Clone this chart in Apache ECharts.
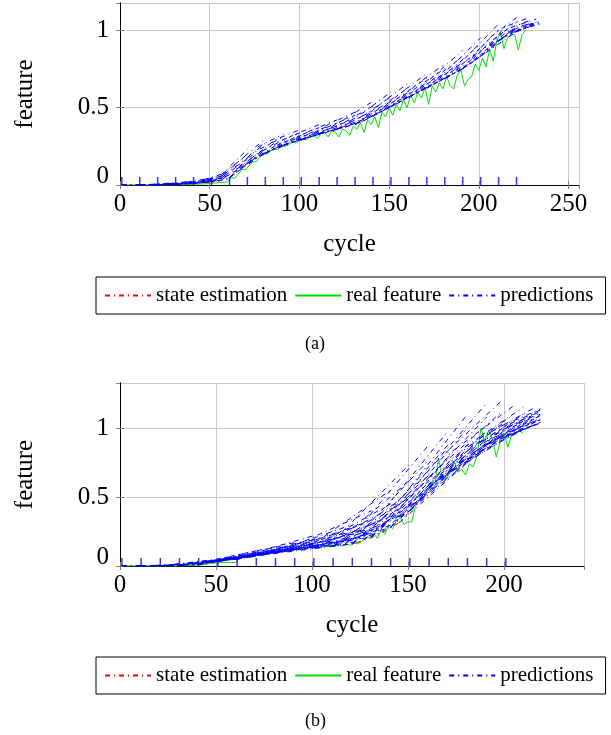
<!DOCTYPE html>
<html><head><meta charset="utf-8">
<script src="https://cdn.jsdelivr.net/npm/echarts@6/dist/echarts.min.js"></script>
<style>html,body{margin:0;padding:0;background:#fff}#c{width:611px;height:735px}</style>
</head><body><div id="c"></div>
<script>
const FONT = '"Liberation Serif", "Times New Roman", serif';
const LEGEND_NAMES = ['state estimation', 'real feature', 'predictions'];
const X_TICKS = [0, 50, 100, 150, 200, 250];
const Y_TICKS = [0, 0.5, 1];

// ---------- chart (a) ----------
const stateStepA = 5;
const stateA = [0,0,0,0,0,0.002,0.004,0.006,0.008,0.012,0.018,0.025,0.04,0.08,0.13,0.17,0.2,0.23,0.25,0.27,0.29,0.31,0.325,0.34,0.355,0.37,0.39,0.41,0.44,0.47,0.5,0.53,0.56,0.59,0.62,0.65,0.68,0.71,0.74,0.78,0.82,0.87,0.92,0.96,0.99,1.02];
const realStepA = 2;
const realA = [0,0,0,0,0,0,0,0,0,0,0,0,0,0,0,0,0,0.001,0.002,0.003,
  0.004,0.005,0.006,0.007,0.008,0.01,0.012,0.014,0.016,0.018,0.02,0.045,0.045,0.07,0.1,0.1,0.125,0.15,0.15,0.18,
  0.2,0.2,0.22,0.23,0.23,0.25,0.25,0.26,0.28,0.27,0.29,0.3,0.29,0.31,0.32,0.3,0.33,0.34,0.31,0.35,
  0.34,0.31,0.36,0.35,0.32,0.38,0.36,0.4,0.34,0.42,0.39,0.44,0.37,0.47,0.44,0.5,0.45,0.52,0.48,0.55,
  0.5,0.58,0.53,0.6,0.56,0.63,0.52,0.64,0.6,0.66,0.62,0.7,0.64,0.62,0.71,0.74,0.64,0.68,0.7,0.78,
  0.74,0.82,0.76,0.88,0.8,0.93,0.98,0.88,0.95,0.97,0.97,0.87,0.97,1.0];
const predStartA = [1,11,21,31,41,51,61,71,81,91,101,111,121,131,141,151,161,171,181,191,201,211,221];
const predStartValA = [0,0,0.001,0.004,0.01,0.018,0.045,0.14,0.205,0.255,0.29,0.33,0.36,0.39,0.445,0.505,0.565,0.625,0.685,0.75,0.83,0.93,0.99];
const predEndCycleA = [31,41,51,61,71,81,91,101,111,121,131,141,151,161,171,181,191,201,211,221,228,232,235];
const predMidA = [
  [0,0.001,0.002,0.003],[0.002,0.004,0.006,0.008],[0.006,0.009,0.012,0.016],[0.015,0.02,0.026,0.032],
  [0.03,0.04,0.05,0.06],[0.09,0.11,0.13,0.15],[0.18,0.2,0.22,0.24],[0.235,0.25,0.27,0.29],
  [0.275,0.29,0.3,0.32],[0.31,0.32,0.335,0.35],[0.345,0.36,0.375,0.39],[0.375,0.39,0.41,0.43],
  [0.415,0.43,0.45,0.47],[0.475,0.49,0.51,0.53],[0.535,0.55,0.57,0.59],[0.6,0.615,0.635,0.655],
  [0.66,0.675,0.695,0.715],[0.72,0.74,0.76,0.78],[0.79,0.81,0.83,0.86],[0.87,0.89,0.92,0.95],
  [0.96,0.98,1.0,1.02],[1.0,1.01,1.02,1.03],[1.02,1.025,1.03,1.035]];
const predEndA = [
  [0.003,0.006,0.01,0.015],[0.01,0.015,0.02,0.025],[0.02,0.028,0.036,0.045],[0.04,0.055,0.07,0.085],
  [0.14,0.17,0.2,0.23],[0.21,0.24,0.27,0.3],[0.26,0.29,0.31,0.33],[0.3,0.32,0.34,0.36],
  [0.33,0.35,0.37,0.39],[0.36,0.38,0.4,0.42],[0.4,0.43,0.45,0.47],[0.45,0.48,0.51,0.54],
  [0.51,0.54,0.57,0.6],[0.57,0.6,0.63,0.66],[0.63,0.66,0.69,0.72],[0.69,0.72,0.75,0.78],
  [0.75,0.79,0.83,0.87],[0.83,0.87,0.91,0.95],[0.92,0.96,1.0,1.04],[0.99,1.02,1.05,1.08],
  [1.02,1.04,1.06,1.08],[1.03,1.04,1.05,1.07],[1.04,1.045,1.05,1.06]];

// ---------- chart (b) ----------
const stateStepB = 5;
const stateB = [0,0,0,0,0,0.001,0.003,0.006,0.01,0.02,0.035,0.04,0.05,0.06,0.08,0.09,0.1,0.11,0.12,0.13,0.135,0.14,0.145,0.15,0.16,0.175,0.2,0.23,0.27,0.31,0.38,0.47,0.56,0.62,0.66,0.7,0.74,0.79,0.86,0.91,0.93,0.96,0.99,1.02];
const realStepB = 2;
const realB = [0,0,0,0,0,0,0,0,0,0,0,0,0,0,0,0,0.001,0.002,0.003,0.004,
  0.005,0.008,0.012,0.015,0.02,0.024,0.024,0.025,0.025,0.025,0.025,0.058,0.06,0.062,0.065,0.075,0.08,0.08,0.09,0.095,
  0.1,0.1,0.105,0.11,0.115,0.12,0.125,0.13,0.125,0.135,0.13,0.14,0.135,0.145,0.14,0.15,0.14,0.155,0.145,0.16,
  0.15,0.165,0.16,0.18,0.2,0.21,0.24,0.2,0.26,0.23,0.3,0.27,0.33,0.35,0.3,0.32,0.32,0.44,0.48,0.52,
  0.55,0.6,0.6,0.78,0.62,0.64,0.68,0.76,0.68,0.7,0.66,0.74,0.72,0.8,1.0,0.9,0.98,0.92,0.79,0.9,
  0.96,0.86,0.95,0.96,0.98,0.96];
const predStartB = [1,11,21,31,41,51,61,71,81,91,101,111,121,131,141,151,161,171,181,191,201];
const predStartValB = [0,0,0,0.004,0.012,0.035,0.05,0.08,0.1,0.12,0.135,0.145,0.16,0.21,0.28,0.4,0.57,0.68,0.77,0.88,0.94];
const predEndCycleB = [61,71,81,91,101,121,131,141,151,161,171,181,191,199,205,210,215,218,219,219,219];
const predMidB = [
  [0.003,0.004,0.006,0.008],[0.01,0.012,0.015,0.018],[0.035,0.04,0.045,0.05],[0.05,0.055,0.06,0.065],
  [0.08,0.085,0.09,0.1],[0.1,0.11,0.12,0.13],[0.13,0.145,0.16,0.18],[0.14,0.16,0.18,0.21],
  [0.155,0.18,0.21,0.25],[0.18,0.21,0.25,0.3],[0.24,0.28,0.33,0.38],[0.32,0.37,0.42,0.48],
  [0.48,0.52,0.57,0.62],[0.62,0.66,0.7,0.76],[0.69,0.73,0.78,0.83],[0.75,0.79,0.83,0.87],
  [0.83,0.86,0.9,0.93],[0.91,0.93,0.96,0.99],[0.93,0.95,0.98,1.01],[0.96,0.98,1.0,1.03],[0.99,1.0,1.02,1.04]];
const predEndB = [
  [0.05,0.055,0.06,0.065],[0.08,0.09,0.1,0.11],[0.1,0.11,0.12,0.14],[0.12,0.13,0.15,0.17],
  [0.14,0.16,0.19,0.22],[0.16,0.2,0.25,0.3],[0.21,0.27,0.33,0.4],[0.28,0.36,0.45,0.55],
  [0.4,0.5,0.62,0.74],[0.56,0.66,0.77,0.88],[0.67,0.78,0.88,0.98],[0.75,0.88,1.0,1.1],
  [0.86,0.98,1.08,1.18],[0.93,1.03,1.12,1.2],[0.96,1.04,1.1,1.16],[1.0,1.05,1.1,1.15],
  [1.02,1.06,1.1,1.14],[1.03,1.06,1.1,1.13],[1.04,1.07,1.1,1.13],[1.04,1.06,1.09,1.12],[1.04,1.06,1.09,1.14]];
const markerCyclesA = [1,11,21,31,41,51,61,71,81,91,101,111,121,131,141,151,161,171,181,191,201,211,221];
const markerCyclesB = [1,11,21,31,41,51,61,71,81,91,101,111,121,131,141,151,161,171,181,191,201];

const RED = '#ff0000', GREEN = '#00e000', BLUE = '#0000ff';
const DASHDOT = [5, 4, 1, 4];

function stepped(vals, step) { return vals.map((v, i) => [i * step, v]); }

function buildSeries(gi, state, sStep, real, rStep, pStart, pStartVal, pEnd, pMid, pEndV, markers) {
  const ax = { xAxisIndex: gi * 2, yAxisIndex: gi * 2 };
  const out = [];
  out.push(Object.assign({ type: 'line', name: 'state estimation', data: stepped(state, sStep), symbol: 'none', z: 2,
    lineStyle: { color: RED, width: 1, type: DASHDOT }, itemStyle: { color: RED } }, ax));
  out.push(Object.assign({ type: 'line', name: 'real feature', data: stepped(real, rStep), symbol: 'none', z: 3,
    lineStyle: { color: GREEN, width: 1 }, itemStyle: { color: GREEN } }, ax));
  pStart.forEach((s, k) => {
    const mc = (s + pEnd[k]) / 2;
    for (let j = 0; j < pMid[k].length; j++) {
      out.push(Object.assign({ type: 'line', name: 'predictions', symbol: 'none', z: 4,
        data: [[s, pStartVal[k]], [mc, pMid[k][j]], [pEnd[k], pEndV[k][j]]],
        lineStyle: { color: BLUE, width: 1, type: DASHDOT }, itemStyle: { color: BLUE } }, ax));
    }
  });
  out.push(Object.assign({ type: 'scatter', name: 'marks', data: markers.map(c => [c, 0]), symbol: 'rect',
    symbolSize: [1.5, 8], symbolOffset: [0, -4], itemStyle: { color: BLUE }, z: 5 }, ax));
  return out;
}

function xAxes(gi, max) {
  const fmt = v => (X_TICKS.indexOf(v) >= 0 ? String(v) : '');
  return [
    { type: 'value', gridIndex: gi, min: 0, max: max, interval: 50, position: 'bottom',
      name: 'cycle', nameLocation: 'middle', nameGap: 47,
      nameTextStyle: { fontFamily: FONT, fontSize: 25, color: '#000' },
      axisLine: { lineStyle: { color: '#000', width: 1 } },
      axisTick: { inside: true, length: 4, lineStyle: { color: '#808080' } },
      axisLabel: { formatter: fmt, fontFamily: FONT, fontSize: 25, color: '#000', margin: 7, showMaxLabel: false },
      splitLine: { show: true, lineStyle: { color: '#c8c8c8', width: 1 } } },
    { type: 'value', gridIndex: gi, min: 0, max: max, interval: 50, position: 'top',
      axisLine: { lineStyle: { color: '#000', width: 1 } },
      axisTick: { inside: true, length: 4, lineStyle: { color: '#808080' } },
      axisLabel: { show: false }, splitLine: { show: false } }
  ];
}
function yAxes(gi, max) {
  const fmt = v => (v === 0 ? '{z|0}' : (Y_TICKS.indexOf(v) >= 0 ? String(v) : ''));
  return [
    { type: 'value', gridIndex: gi, min: 0, max: max, interval: 0.5, position: 'left',
      name: 'feature', nameLocation: 'middle', nameGap: 82, nameRotate: 90,
      nameTextStyle: { fontFamily: FONT, fontSize: 25, color: '#000' },
      axisLine: { show: true, lineStyle: { color: '#000', width: 1 } },
      axisTick: { show: true, inside: true, length: 4, lineStyle: { color: '#808080' } },
      axisLabel: { formatter: fmt, fontFamily: FONT, fontSize: 25, color: '#000', margin: 11, showMaxLabel: false,
        rich: { z: { fontFamily: FONT, fontSize: 25, color: '#000', padding: [0, 0, 18, 0] } } },
      splitLine: { show: true, lineStyle: { color: '#c8c8c8', width: 1 } } },
    { type: 'value', gridIndex: gi, min: 0, max: max, interval: 0.5, position: 'right',
      axisLine: { show: true, lineStyle: { color: '#000', width: 1 } },
      axisTick: { show: true, inside: true, length: 4, lineStyle: { color: '#808080' } },
      axisLabel: { show: false }, splitLine: { show: false } }
  ];
}
function legendAt(top) {
  return { data: LEGEND_NAMES, left: 96, top: top, orient: 'horizontal', itemWidth: 46, itemHeight: 14,
    itemGap: 7, padding: [8, 12, 8, 8], borderColor: '#000', borderWidth: 1, selectedMode: false,
    itemStyle: { opacity: 0 },
    textStyle: { fontFamily: FONT, fontSize: 21, color: '#000' } };
}

const chart = echarts.init(document.getElementById('c'), null, { renderer: 'canvas' });
chart.setOption({
  animation: false,
  backgroundColor: '#fff',
  grid: [{ left: 120, top: 3, width: 459, height: 182 }, { left: 120, top: 383, width: 464, height: 183 }],
  xAxis: xAxes(0, 255.8).concat(xAxes(1, 241.7)),
  yAxis: yAxes(0, 1.174).concat(yAxes(1, 1.326)),
  legend: [legendAt(277), legendAt(657)],
  title: [
    { text: '(a)', left: 300, top: 330, textStyle: { fontFamily: FONT, fontSize: 18, fontWeight: 'normal', color: '#000' } },
    { text: '(b)', left: 300, top: 707, textStyle: { fontFamily: FONT, fontSize: 18, fontWeight: 'normal', color: '#000' } }
  ],
  series: buildSeries(0, stateA, stateStepA, realA, realStepA, predStartA, predStartValA, predEndCycleA, predMidA, predEndA, markerCyclesA)
    .concat(buildSeries(1, stateB, stateStepB, realB, realStepB, predStartB, predStartValB, predEndCycleB, predMidB, predEndB, markerCyclesB))
});
</script>
</body></html>
